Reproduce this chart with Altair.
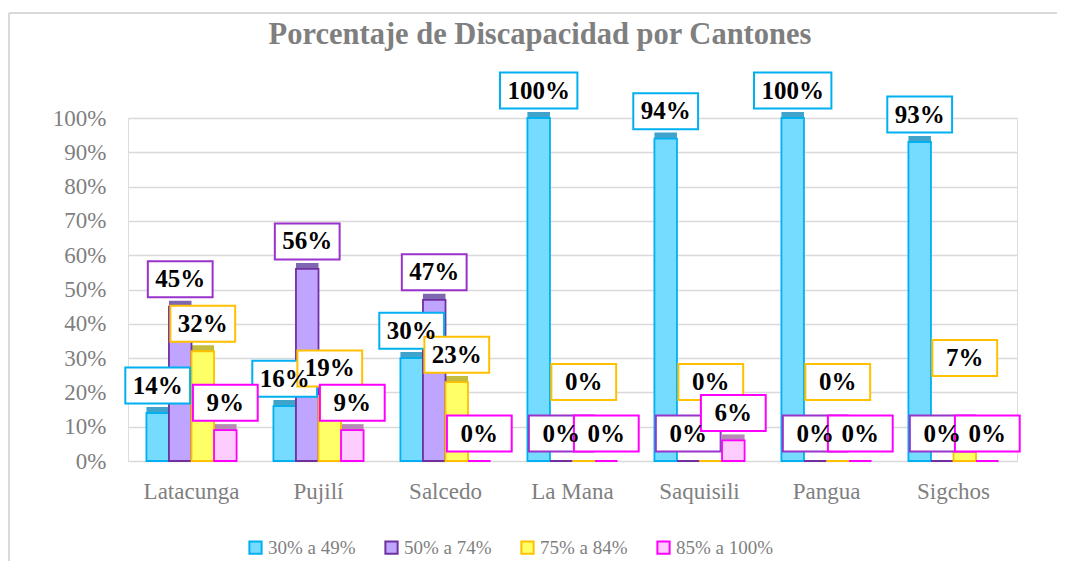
import altair as alt
import pandas as pd

cantones = ["Latacunga", "Pujilí", "Salcedo", "La Mana", "Saquisili", "Pangua", "Sigchos"]
series = ["30% a 49%", "50% a 74%", "75% a 84%", "85% a 100%"]
v_30_49 = [14, 16, 30, 100, 94, 100, 93]
v_50_74 = [45, 56, 47, 0, 0, 0, 0]
v_75_84 = [32, 19, 23, 0, 0, 0, 7]
v_85_100 = [9, 9, 0, 0, 6, 0, 0]
titulo = "Porcentaje de Discapacidad por Cantones"

fills = ["#75DBFF", "#BFA5FF", "#FFFF66", "#FFCCFF"]
strokes = ["#00B0F0", "#7030A0", "#FFC000", "#FF00FF"]
shades = ["#3FA3CC", "#7E66B0", "#C4BC3C", "#B58BB5"]
boxcols = ["#00B0F0", "#9933CC", "#FFC000", "#FF00FF"]

rows = []
for s, vals in zip(series, [v_30_49, v_50_74, v_75_84, v_85_100]):
    for c, v in zip(cantones, vals):
        rows.append({"canton": c, "serie": s, "valor": v})
df = pd.DataFrame(rows)


def mapexpr(colors):
    parts = " : ".join(f"datum.serie == '{s}' ? '{c}'" for s, c in zip(series, colors[:-1]))
    return parts + f" : '{colors[-1]}'"


base = alt.Chart(df).transform_calculate(
    shade=mapexpr(shades),
    boxc=mapexpr(boxcols),
    ly=f"datum.valor + 8 + ((datum.serie == '{series[2]}' && datum.valor < 10) ? 15 : 0)",
    lbl="datum.valor + '%'",
    w="datum.valor >= 100 ? 'w' : 'n'",
)

xenc = alt.X(
    "canton:N",
    sort=cantones,
    scale=alt.Scale(paddingInner=0.29, paddingOuter=0.145),
    axis=alt.Axis(title=None, labelAngle=0, domain=False, ticks=False, grid=False,
                  labelFont="Liberation Serif", labelFontSize=23, labelColor="#7f7f7f",
                  labelPadding=19),
)
xoff = alt.XOffset("serie:N", sort=series)
yscale = alt.Scale(domain=[0, 100])
yaxis = alt.Axis(title=None, values=list(range(0, 101, 10)), labelExpr="datum.value + '%'",
                 grid=True, gridColor="#d9d9d9", gridWidth=1.5, domain=False, ticks=False,
                 labelFont="Liberation Serif", labelFontSize=23, labelColor="#7f7f7f",
                 labelPadding=22, labelOverlap=False)

shadow = base.mark_bar(xOffset=6, yOffset=-6).encode(
    x=xenc, xOffset=xoff,
    y=alt.Y("valor:Q", scale=yscale, axis=yaxis),
    fill=alt.Fill("shade:N", scale=None),
)

leg = alt.Legend(title=None, orient="none", legendX=118, legendY=420,
                 direction="horizontal", symbolType="square",
                 symbolSize=150, symbolStrokeWidth=2,
                 labelFont="Liberation Serif", labelFontSize=19,
                 labelColor="#7f7f7f", columnPadding=25, labelOffset=3)

bars = base.mark_bar(strokeWidth=1.8).encode(
    x=xenc, xOffset=xoff,
    y=alt.Y("valor:Q", scale=yscale, axis=yaxis),
    fill=alt.Fill("serie:N", sort=series, scale=alt.Scale(domain=series, range=fills), legend=leg),
    stroke=alt.Stroke("serie:N", sort=series, scale=alt.Scale(domain=series, range=strokes), legend=leg),
)

narrow = "M-1.8,-1L1.8,-1L1.8,1L-1.8,1Z"
wide = "M-2.15,-1L2.15,-1L2.15,1L-2.15,1Z"

boxes = base.mark_point(fill="white", fillOpacity=1, opacity=1, strokeWidth=2, size=1296).encode(
    x=xenc, xOffset=xoff,
    y=alt.Y("ly:Q", scale=yscale, axis=yaxis),
    shape=alt.Shape("w:N", scale=alt.Scale(domain=["n", "w"], range=[narrow, wide]), legend=None),
    stroke=alt.Stroke("boxc:N", scale=None),
)

texts = base.mark_text(font="Liberation Serif", fontSize=25, fontWeight="bold",
                       color="black", baseline="middle").encode(
    x=xenc, xOffset=xoff,
    y=alt.Y("ly:Q", scale=yscale, axis=yaxis),
    text="lbl:N",
)

# outer chart frame and title (decoration)
single = alt.Chart(pd.DataFrame({"t": [titulo]}))
frame_top = single.mark_rule(color="#d9d9d9", strokeWidth=2).encode(
    x=alt.value(-119), x2=alt.value(935), y=alt.value(-105))
frame_left = single.mark_rule(color="#d9d9d9", strokeWidth=2).encode(
    x=alt.value(-119), y=alt.value(-105), y2=alt.value(445))
title_txt = single.mark_text(font="Liberation Serif", fontSize=30.5, fontWeight="bold",
                             color="#7f7f7f", align="center", baseline="middle").encode(
    x=alt.value(412), y=alt.value(-83), text="t:N")

chart = alt.layer(frame_top, frame_left, title_txt, shadow, bars, boxes, texts).properties(
    width=889, height=343,
    autosize=alt.AutoSizeParams(type="none"),
    padding={"left": 120, "top": 110, "right": 40, "bottom": 100},
).configure_view(stroke=None).configure(background="white")

chart.save("out.html", embed_options={"renderer": "svg", "actions": False})
